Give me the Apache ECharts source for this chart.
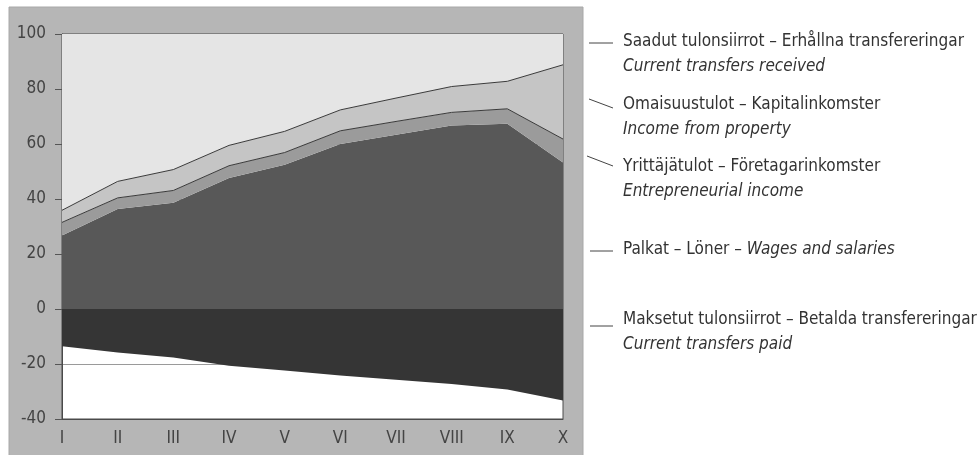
<!DOCTYPE html>
<html>
<head>
<meta charset="utf-8">
<script src="https://cdn.jsdelivr.net/npm/echarts@6/dist/echarts.min.js"></script>
<style>
  html, body { margin: 0; padding: 0; background: #ffffff; }
  #chart { width: 978px; height: 455px; }
</style>
</head>
<body>
<div id="chart"></div>
<script>
// Income deciles I–X
const deciles = ['I', 'II', 'III', 'IV', 'V', 'VI', 'VII', 'VIII', 'IX', 'X'];

// Shares of gross income, %
const wages        = [26.7, 36.4, 38.6, 47.6, 52.5, 60.0, 63.4, 66.7, 67.4, 53.3];
const entrepreneur = [4.8, 4.0, 4.5, 4.5, 4.4, 4.8, 4.8, 4.8, 5.4, 8.5];
const property     = [4.4, 6.0, 7.6, 7.4, 7.7, 7.6, 8.5, 9.4, 10.0, 27.0];
const received     = [64.1, 53.6, 49.3, 40.5, 35.4, 27.6, 23.3, 19.1, 17.2, 11.2];
const paid         = [-13.5, -15.8, -17.6, -20.6, -22.4, -24.2, -25.7, -27.3, -29.3, -33.3];

const yTicks = { min: -40, max: 100, step: 20 };

const FONT = "'Liberation Sans Narrow', 'DejaVu Sans Condensed', 'Noto Sans', sans-serif";
const TXT = '#333333';

const chart = echarts.init(document.getElementById('chart'), null, { renderer: 'canvas' });

function legendText(x, y, text, italic) {
  return {
    type: 'text', x: x, y: y, silent: true,
    style: {
      text: text, fill: TXT, font: (italic ? 'italic ' : '') + '17px ' + FONT,
      verticalAlign: 'middle', align: 'left'
    }
  };
}
function legendLine(x1, y1, x2, y2) {
  return {
    type: 'line', silent: true,
    shape: { x1: x1, y1: y1, x2: x2, y2: y2 },
    style: { stroke: '#444444', lineWidth: 1 }
  };
}

const areaSeries = (name, data, color, lineW) => ({
  name: name,
  type: 'line',
  stack: 'income',
  data: data,
  symbol: 'none',
  lineStyle: { color: '#3a3a3a', width: lineW },
  areaStyle: { color: color, opacity: 1 },
  emphasis: { disabled: true },
  animation: false
});

chart.setOption({
  animation: false,
  backgroundColor: '#ffffff',
  grid: {
    left: 62, right: 415, top: 34, bottom: 36,
    show: true, backgroundColor: '#ffffff', borderColor: '#4a4a4a', borderWidth: 1
  },
  xAxis: {
    type: 'category',
    data: deciles,
    boundaryGap: false,
    axisLine: { onZero: false, lineStyle: { color: '#4a4a4a', width: 1 } },
    axisTick: { show: false },
    axisLabel: { color: '#444444', fontSize: 17, fontFamily: FONT, margin: 11 },
    splitLine: { show: false }
  },
  yAxis: {
    type: 'value',
    min: yTicks.min, max: yTicks.max, interval: yTicks.step,
    axisLine: { show: true, lineStyle: { color: '#4a4a4a', width: 1 } },
    axisTick: { show: true, length: 7, lineStyle: { color: '#555555' } },
    axisLabel: { color: '#444444', fontSize: 17, fontFamily: FONT, margin: 16 },
    splitLine: { show: true, lineStyle: { color: '#9a9a9a', width: 1 } }
  },
  series: [
    {
      name: 'Maksetut tulonsiirrot',
      type: 'line',
      data: paid,
      symbol: 'none',
      lineStyle: { width: 0 },
      areaStyle: { color: '#353535', opacity: 1 },
      emphasis: { disabled: true }
    },
    areaSeries('Palkat', wages, '#585858', 0),
    areaSeries('Yrittäjätulot', entrepreneur, '#9b9b9b', 1),
    areaSeries('Omaisuustulot', property, '#c5c5c5', 1),
    areaSeries('Saadut tulonsiirrot', received, '#e5e5e5', 0)
  ],
  graphic: [
    {
      type: 'rect', z: -10, silent: true,
      shape: { x: 9, y: 7, width: 574, height: 460 },
      style: { fill: '#b6b6b6', stroke: '#a8a8a8', lineWidth: 1 }
    },
    legendLine(589, 43, 613, 43),
    legendText(623, 42, 'Saadut tulonsiirrot – Erhållna transfereringar', false),
    legendText(623, 67, 'Current transfers received', true),

    legendLine(589, 99, 613, 108),
    legendText(623, 105, 'Omaisuustulot – Kapitalinkomster', false),
    legendText(623, 130, 'Income from property', true),

    legendLine(587, 156, 613, 166),
    legendText(623, 167, 'Yrittäjätulot – Företagarinkomster', false),
    legendText(623, 192, 'Entrepreneurial income', true),

    legendLine(590, 251, 613, 251),
    {
      type: 'text', x: 623, y: 250, silent: true,
      style: {
        text: '{n|Palkat – Löner – }{i|Wages and salaries}',
        verticalAlign: 'middle', align: 'left',
        rich: {
          n: { fill: TXT, font: '17px ' + FONT },
          i: { fill: TXT, font: 'italic 17px ' + FONT }
        }
      }
    },

    legendLine(590, 326, 613, 326),
    legendText(623, 320, 'Maksetut tulonsiirrot – Betalda transfereringar', false),
    legendText(623, 345, 'Current transfers paid', true)
  ]
});
</script>
</body>
</html>
